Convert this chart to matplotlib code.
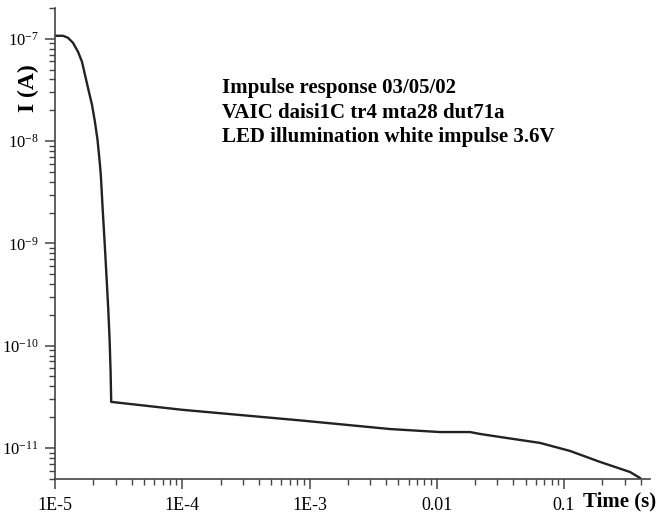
import numpy as np
import matplotlib
matplotlib.use('Agg')
import matplotlib.pyplot as plt
from matplotlib.ticker import LogLocator, FuncFormatter, NullFormatter

plt.rcParams['font.family'] = ['Liberation Serif', 'DejaVu Serif']
plt.rcParams['mathtext.fontset'] = 'custom'
plt.rcParams['mathtext.rm'] = 'Liberation Serif'
plt.rcParams['mathtext.it'] = 'Liberation Serif:italic'

# datos (tiempo en s, corriente en A)
time_s = [1.0e-5, 1.156e-5, 1.265e-5, 1.384e-5, 1.517e-5, 1.63e-5, 1.72e-5,
          1.816e-5, 1.954e-5, 2.06e-5, 2.158e-5, 2.237e-5, 2.291e-5, 2.371e-5,
          2.461e-5, 2.548e-5, 2.623e-5, 2.686e-5, 2.735e-5, 2.765e-5,
          1.0e-4, 8.41e-4, 4.30e-3, 1.06e-2, 1.825e-2, 2.19e-2, 3.14e-2,
          6.48e-2, 0.1114, 0.192, 0.330, 0.395]
current_a = [1.07e-7, 1.07e-7, 1.023e-7, 9.14e-8, 7.46e-8, 5.96e-8, 4.45e-8,
             3.32e-8, 2.26e-8, 1.54e-8, 1.03e-8, 6.56e-9, 4.68e-9, 2.13e-9,
             9.67e-10, 4.40e-10, 2.24e-10, 1.14e-10, 5.53e-11, 2.82e-11,
             2.36e-11, 1.86e-11, 1.53e-11, 1.43e-11, 1.43e-11, 1.37e-11, 1.28e-11,
             1.12e-11, 9.35e-12, 7.3e-12, 5.82e-12, 5.09e-12]

x_ticks = [1e-5, 1e-4, 1e-3, 1e-2, 1e-1]
x_labels = ['1E-5', '1E-4', '1E-3', '0.01', '0.1']

notes = ['Impulse response 03/05/02',
         'VAIC daisi1C tr4 mta28 dut71a',
         'LED illumination white impulse 3.6V']

fig = plt.figure(figsize=(6.59, 5.16), dpi=100)
ax = fig.add_axes([55/659, 1 - 479/516, 595/659, 471/516])

ax.plot(time_s, current_a, color='#222222', lw=1.7)
ax.set_xscale('log')
ax.set_yscale('log')
ax.set_xlim(1e-5, 0.474)
ax.set_ylim(4.97e-12, 2.0e-7)

for s in ['top', 'right']:
    ax.spines[s].set_visible(False)
for s in ['left', 'bottom']:
    ax.spines[s].set_color('#444444')
    ax.spines[s].set_linewidth(1.2)

ax.set_xticks(x_ticks)
ax.set_xticklabels(x_labels)
ax.xaxis.set_minor_locator(LogLocator(base=10, subs=np.arange(2, 10)))
ax.xaxis.set_minor_formatter(NullFormatter())
ax.yaxis.set_major_locator(LogLocator(base=10))
ax.yaxis.set_major_formatter(FuncFormatter(lambda v, p: r'$10^{%d}$' % round(np.log10(v))))
ax.yaxis.set_minor_locator(LogLocator(base=10, subs=np.arange(2, 10)))
ax.yaxis.set_minor_formatter(NullFormatter())

ax.tick_params(which='major', direction='out', length=7, width=1.1, color='#444444',
               labelsize=13, pad=6)
ax.tick_params(axis='y', which='major', labelsize=12, pad=5)
ax.tick_params(which='minor', direction='out', length=4, width=1, color='#444444')

ax.text(-0.045, 0.83, 'I (A)', transform=ax.transAxes, rotation=90,
        fontsize=17, fontweight='bold', ha='center', va='center')
ax.text(0.888, -0.047, 'Time (s)', transform=ax.transAxes,
        fontsize=15, fontweight='bold', ha='left', va='center')

for i, line in enumerate(notes):
    ax.text(0.281, 0.830 - i * 0.052, line, transform=ax.transAxes,
            fontsize=15, fontweight='bold', ha='left', va='center')

fig.savefig('out.png', dpi=100)
